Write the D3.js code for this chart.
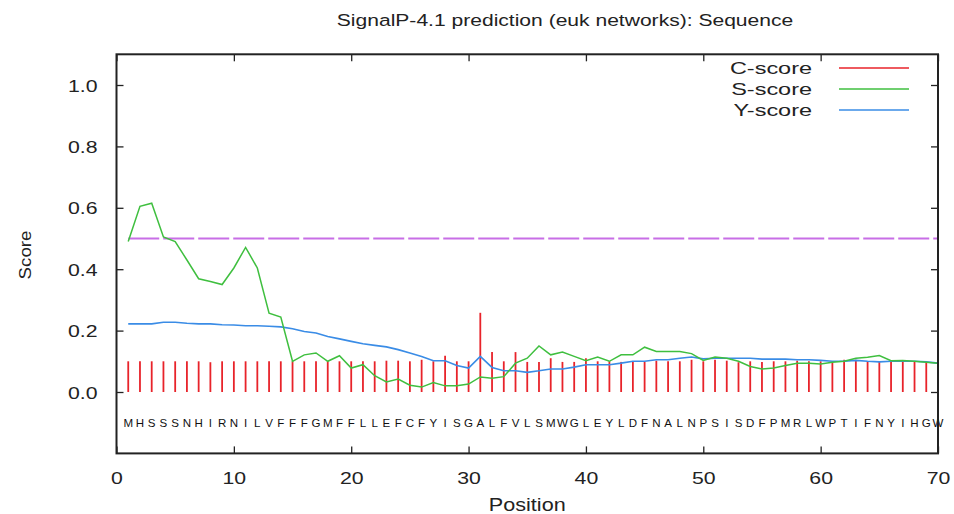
<!DOCTYPE html>
<html>
<head>
<meta charset="utf-8">
<script src="https://cdn.jsdelivr.net/npm/d3@7"></script>
<style>
  html, body { margin: 0; padding: 0; background: #fff; }
  svg { display: block; font-family: "Liberation Sans", Arial, sans-serif; }
</style>
</head>
<body>
<svg id="chart" width="954" height="514"></svg>
<script>
// ---------- data ----------
const sequence = "MHSSSNHIRNILVFFFGMFFLLEFCFYISGALFVLSMWGLEYLDFNALNPSISDFPMRLWPTIFNYIHGW".split("");
const cScore = [
  0.100,0.100,0.100,0.100,0.100,0.100,0.100,0.097,0.100,0.100,
  0.100,0.100,0.100,0.100,0.100,0.100,0.100,0.100,0.100,0.100,
  0.100,0.100,0.102,0.102,0.100,0.105,0.100,0.118,0.100,0.100,
  0.258,0.130,0.100,0.130,0.098,0.098,0.110,0.098,0.098,0.110,
  0.100,0.100,0.098,0.098,0.098,0.102,0.100,0.100,0.105,0.100,
  0.105,0.102,0.097,0.100,0.098,0.100,0.100,0.102,0.100,0.100,
  0.098,0.105,0.105,0.100,0.100,0.100,0.100,0.100,0.098,0.100
];
const sScore = [
  0.490,0.605,0.615,0.505,0.490,0.430,0.369,0.360,0.350,0.404,
  0.471,0.404,0.257,0.244,0.100,0.121,0.127,0.100,0.118,0.078,
  0.089,0.053,0.033,0.042,0.022,0.016,0.031,0.020,0.020,0.026,
  0.049,0.045,0.050,0.094,0.110,0.150,0.121,0.130,0.116,0.102,
  0.114,0.100,0.121,0.121,0.146,0.132,0.132,0.132,0.125,0.103,
  0.114,0.110,0.100,0.083,0.075,0.078,0.086,0.094,0.094,0.091,
  0.097,0.100,0.110,0.113,0.119,0.102,0.103,0.100,0.097,0.094
];
const yScore = [
  0.222,0.222,0.222,0.227,0.227,0.224,0.222,0.222,0.219,0.218,
  0.216,0.216,0.214,0.212,0.206,0.197,0.192,0.181,0.173,0.165,
  0.157,0.152,0.147,0.138,0.127,0.116,0.102,0.102,0.086,0.078,
  0.116,0.080,0.069,0.069,0.064,0.069,0.075,0.075,0.081,0.089,
  0.089,0.089,0.094,0.100,0.100,0.105,0.105,0.110,0.114,0.108,
  0.110,0.110,0.110,0.110,0.107,0.107,0.107,0.105,0.105,0.103,
  0.100,0.100,0.103,0.100,0.098,0.100,0.100,0.100,0.098,0.094
];
const threshold = 0.5;
const xTicks = [0,10,20,30,40,50,60,70];
const yTicks = [0.0,0.2,0.4,0.6,0.8,1.0];
const legendLabels = ["C-score","S-score","Y-score"];
const titleText = "SignalP-4.1 prediction (euk networks): Sequence";

// ---------- layout ----------
const svg = d3.select("#chart");
const L = 116.5, R = 938, T = 54.3, B = 453.4;
const x = d3.scaleLinear().domain([0, 70]).range([L, R]);
const y = d3.scaleLinear().domain([-0.2, 1.1]).range([B, T]);
const colC = "#e8232a", colS = "#3fbf3f", colY = "#3a8ce6", colT = "#c86ee6";
const ink = "#222";
const positions = sequence.map((_, i) => i + 1);

// threshold line
svg.append("line")
  .attr("x1", x(1)).attr("x2", R)
  .attr("y1", y(threshold)).attr("y2", y(threshold))
  .attr("stroke", colT).attr("stroke-width", 2)
  .attr("stroke-dasharray", "31,4");

// C-score bars
svg.append("g").selectAll("line").data(cScore).join("line")
  .attr("x1", (d, i) => x(positions[i])).attr("x2", (d, i) => x(positions[i]))
  .attr("y1", y(0)).attr("y2", d => y(d))
  .attr("stroke", colC).attr("stroke-width", 1.8);

// lines
const lineGen = d3.line().x((d, i) => x(positions[i])).y(d => y(d));
svg.append("path").datum(yScore).attr("d", lineGen)
  .attr("fill", "none").attr("stroke", colY).attr("stroke-width", 1.6);
svg.append("path").datum(sScore).attr("d", lineGen)
  .attr("fill", "none").attr("stroke", colS).attr("stroke-width", 1.5);

// sequence letters
svg.append("g").selectAll("text").data(sequence).join("text")
  .attr("transform", (d, i) => `translate(${x(positions[i])},427) scale(1.1,1)`)
  .attr("text-anchor", "middle")
  .attr("font-size", 10.5).attr("fill", "#111")
  .text(d => d);

// axes
const axB = svg.append("g").attr("transform", `translate(0,${B})`)
  .call(d3.axisBottom(x).tickValues(xTicks).tickFormat(d3.format("d")).tickSize(-7).tickPadding(19));
const axT = svg.append("g").attr("transform", `translate(0,${T})`)
  .call(d3.axisTop(x).tickValues(xTicks).tickFormat("").tickSize(-7));
const axL = svg.append("g").attr("transform", `translate(${L},0)`)
  .call(d3.axisLeft(y).tickValues(yTicks).tickFormat(d3.format(".1f")).tickSize(-7));
const axR = svg.append("g").attr("transform", `translate(${R},0)`)
  .call(d3.axisRight(y).tickValues(yTicks).tickFormat("").tickSize(-7));
[axB, axT, axL, axR].forEach(g => {
  g.select(".domain").remove();
  g.selectAll(".tick line").attr("stroke", ink).attr("stroke-width", 1.3);
});
axB.selectAll("text")
  .attr("font-size", 17).attr("fill", ink)
  .attr("font-family", "Liberation Sans, Arial, sans-serif")
  .attr("transform", "scale(1.25,1)");
axL.selectAll("text")
  .attr("font-size", 17).attr("fill", ink)
  .attr("font-family", "Liberation Sans, Arial, sans-serif")
  .attr("x", 0).attr("dy", "0.36em")
  .attr("transform", "translate(-19,0) scale(1.25,1)");

// frame
svg.append("rect").attr("x", L).attr("y", T).attr("width", R - L).attr("height", B - T)
  .attr("fill", "none").attr("stroke", ink).attr("stroke-width", 2);

// title and axis labels
svg.append("text")
  .attr("transform", "translate(565,26) scale(1.24,1)")
  .attr("text-anchor", "middle").attr("font-size", 17).attr("fill", ink)
  .text(titleText);
svg.append("text")
  .attr("transform", `translate(${(L + R) / 2},511) scale(1.2,1)`)
  .attr("text-anchor", "middle").attr("font-size", 18).attr("fill", ink)
  .text("Position");
svg.append("text")
  .attr("transform", "translate(31,255) rotate(-90) scale(1.1,1)")
  .attr("text-anchor", "middle").attr("font-size", 17).attr("fill", ink)
  .text("Score");

// legend
const legendColors = [colC, colS, colY];
const lg = svg.append("g");
legendLabels.forEach((lab, i) => {
  const ly = 68 + i * 21;
  lg.append("text")
    .attr("transform", `translate(812,${ly + 6}) scale(1.38,1)`)
    .attr("text-anchor", "end").attr("font-size", 17).attr("fill", ink)
    .text(lab);
  lg.append("line").attr("x1", 839).attr("x2", 909).attr("y1", ly).attr("y2", ly)
    .attr("stroke", legendColors[i]).attr("stroke-width", 1.3);
});
</script>
</body>
</html>
